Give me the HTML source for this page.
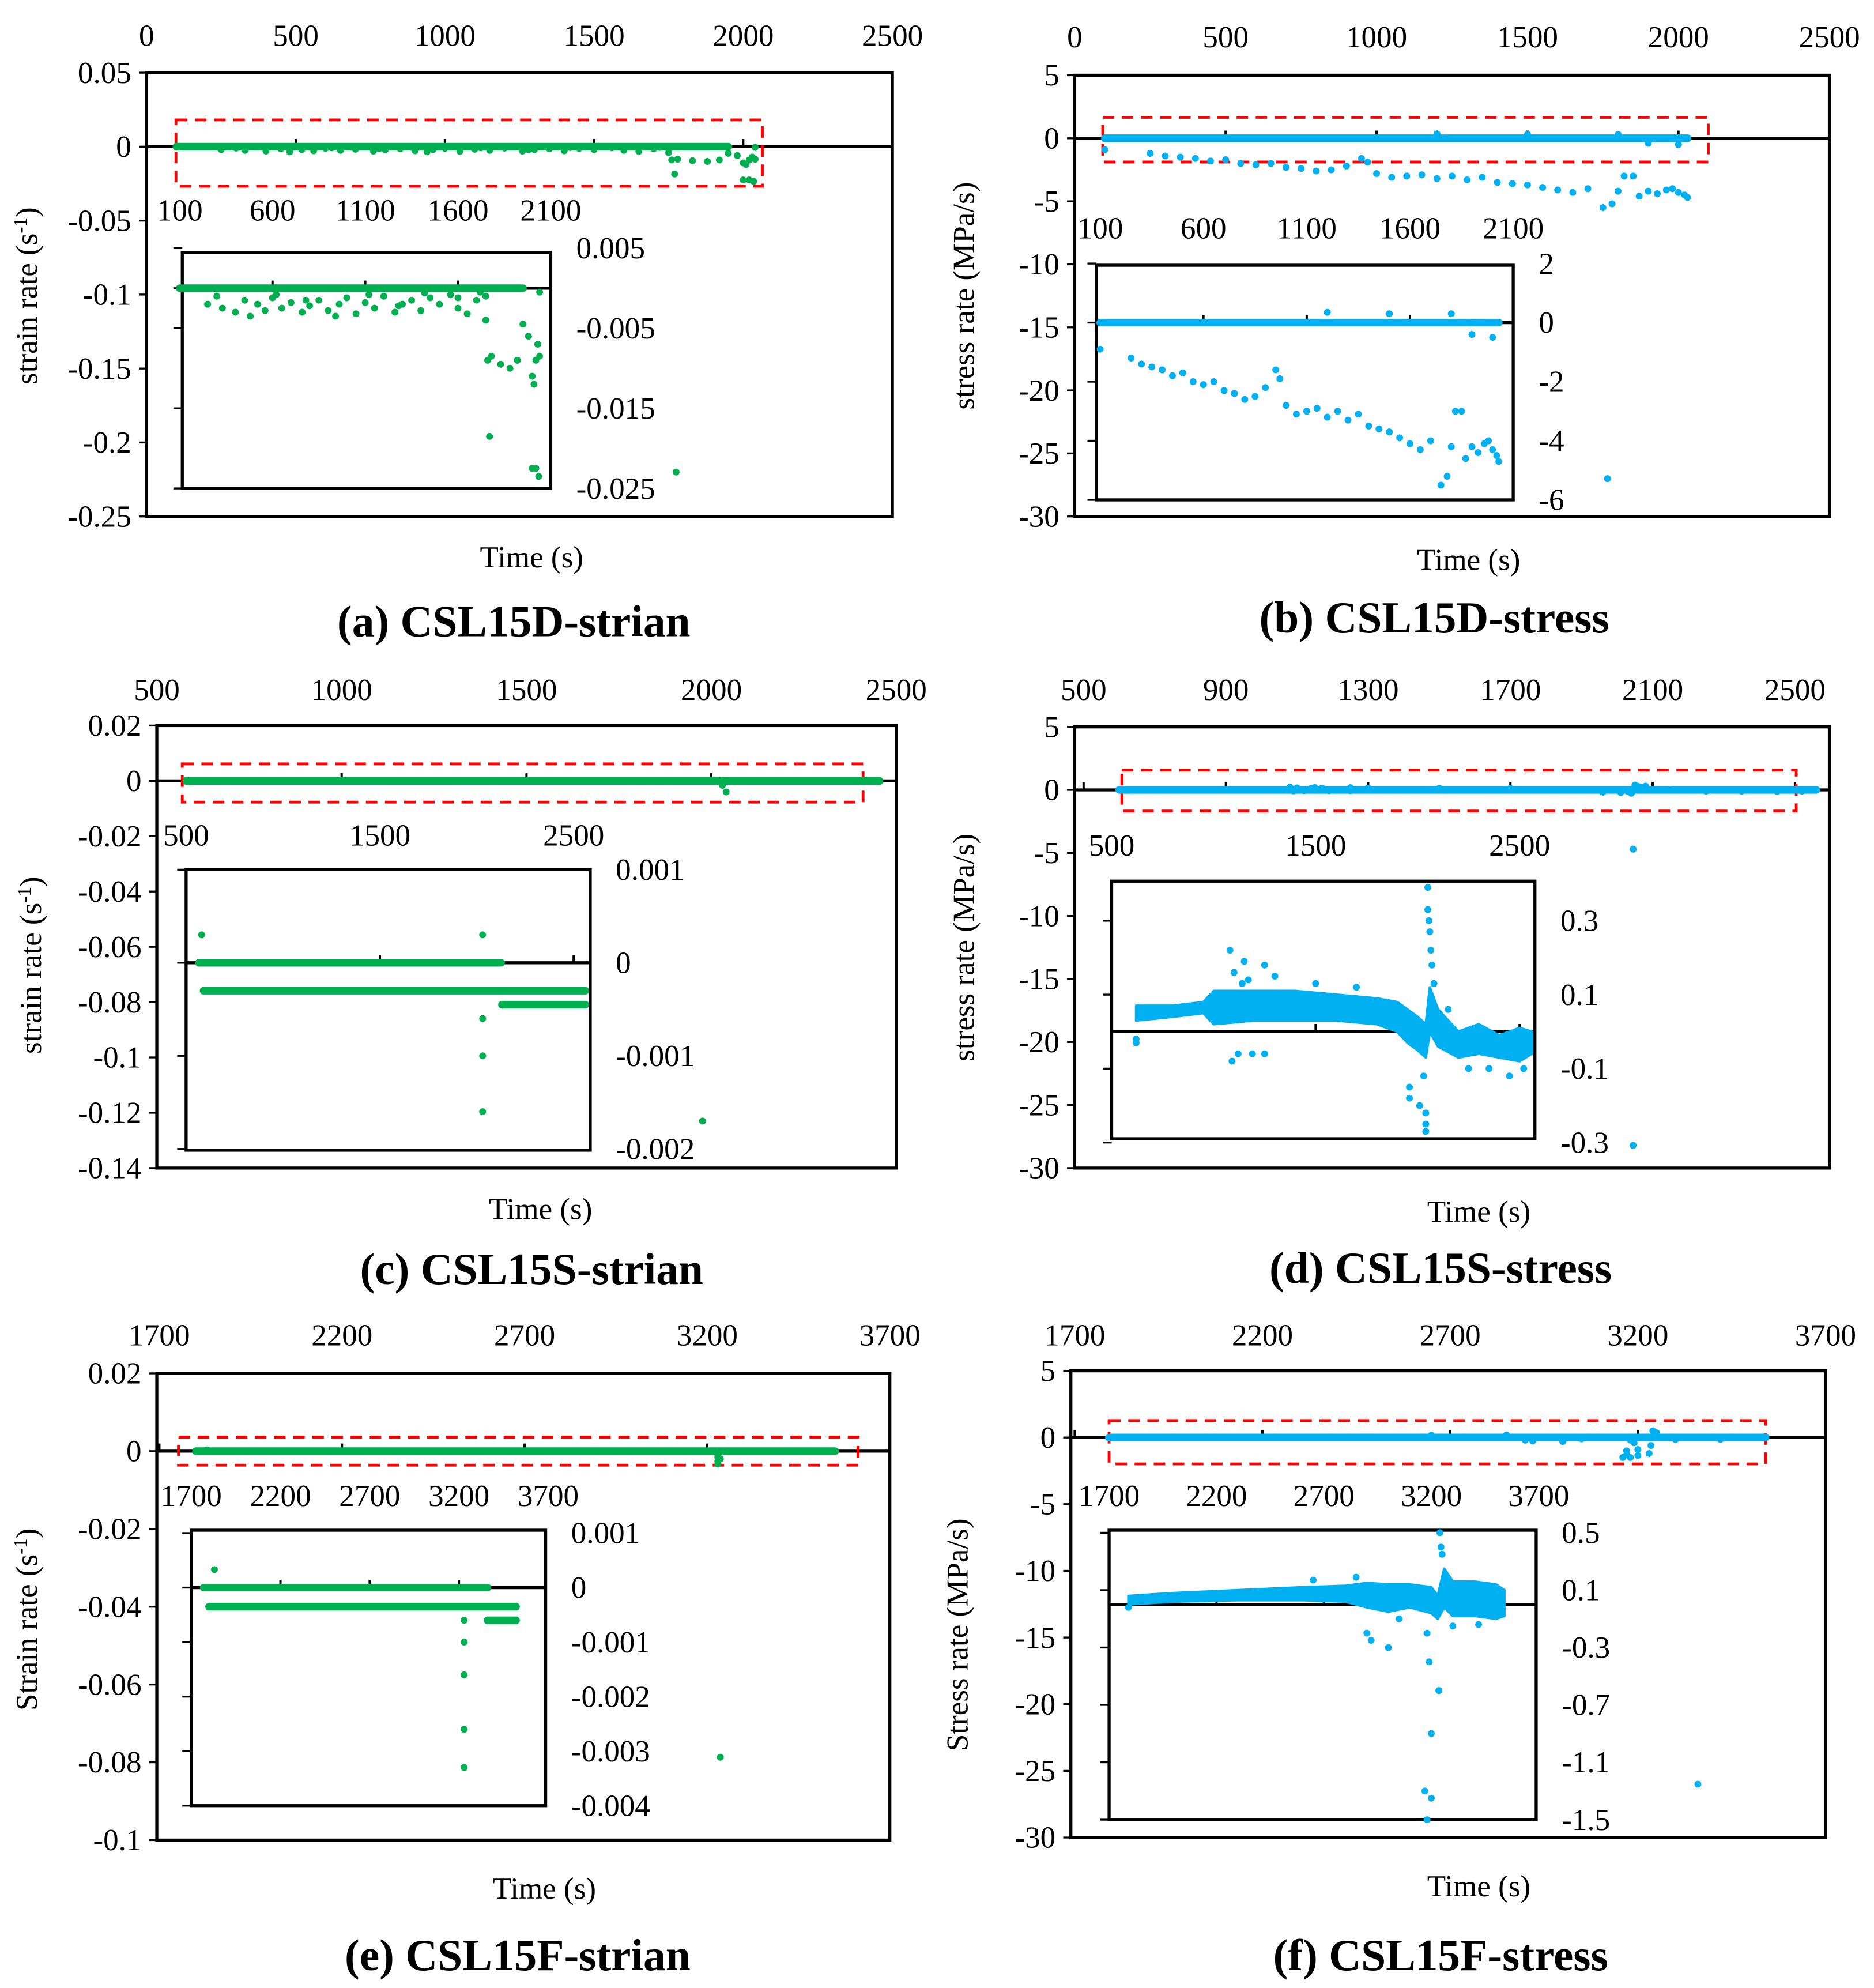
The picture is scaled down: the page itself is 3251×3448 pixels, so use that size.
<!DOCTYPE html>
<html><head><meta charset="utf-8">
<style>
html,body{margin:0;padding:0;background:#fff;}
svg{display:block;}
svg text{font-family:"Liberation Serif","Times New Roman",serif;fill:#000;}
</style></head>
<body>
<svg id="fig" xmlns="http://www.w3.org/2000/svg" width="3251" height="3448" viewBox="0 0 1470 1559" preserveAspectRatio="none" font-family="Liberation Serif, Times New Roman, serif">
<rect x="0" y="0" width="1470" height="1559" fill="#fff"/>
</svg>
<script>
// ===== Panel (a) data =====
const aBandT = [[100, 1950]];
const aBandV = [0];
const aPtT = [250,330,400,450,520,560,600,650,700,760,800,850,900,960,1000,1050,1100,1150,1200,1260,1300,1350,1400,1450,1500,1560,1600,1650,1700,1750,1750,1760,1770,1780,1830,1880,1920,1950,1980,2000,2010,2020,2030,2040,2000,2020,2035,2040,300,480,620,780,940,1120,1280,1420,1600,1720];
const aPtV = [-0.002,-0.0025,-0.003,-0.0015,-0.002,-0.0028,-0.0012,-0.0025,-0.0018,-0.003,-0.0022,-0.0015,-0.0028,-0.002,-0.0012,-0.0032,-0.0018,-0.0025,-0.001,-0.003,-0.002,-0.0015,-0.0028,-0.0012,-0.002,-0.0008,-0.0025,-0.0032,-0.0015,-0.001,-0.004,-0.009,-0.0185,-0.0085,-0.0095,-0.01,-0.009,-0.0045,-0.006,-0.011,-0.012,-0.009,-0.007,-0.0085,-0.0225,-0.0225,-0.0235,-0.0005,-0.001,-0.0035,-0.0008,-0.0015,-0.0035,-0.0008,-0.0022,-0.0006,-0.0012,-0.0005];
const aMainBandT = [[100, 1950]];
const aMainT = [1775];
const aMainV = [-0.22];
// ===== Panel (b) data =====
const bBandT = [[100, 2030]];
const bBandV = [0];
const bPtT = [100,250,300,350,400,450,500,550,600,650,700,750,800,850,900,950,970,1000,1050,1100,1150,1200,1250,1300,1350,1400,1450,1500,1550,1600,1650,1700,1750,1780,1800,1820,1850,1870,1900,1930,1960,1980,2000,2020,2030,1200,1500,1800,1900,2000];
const bPtV = [-0.9,-1.2,-1.4,-1.5,-1.6,-1.8,-1.7,-2.0,-2.1,-2.0,-2.3,-2.4,-2.6,-2.5,-2.2,-1.6,-1.9,-2.8,-3.1,-3.0,-2.9,-3.2,-3.0,-3.3,-3.1,-3.5,-3.6,-3.7,-3.9,-4.1,-4.3,-4.0,-5.5,-5.2,-4.2,-3.0,-3.0,-4.6,-4.2,-4.4,-4.1,-4.0,-4.3,-4.5,-4.7,0.35,0.3,0.3,-0.4,-0.5];
const bMainBandT = [[100, 2030]];
const bMainT = [1765];
const bMainV = [-27];
// ===== Panel (c) data =====
const cBandT = [[566, 2125],[590, 2560],[2130, 2560]];
const cBandV = [0, -0.0003, -0.00045];
const cPtT = [580, 2030, 2030, 2030, 2030];
const cPtV = [0.0003, 0.0003, -0.0006, -0.001, -0.0016];
const cMainBandT = [[580, 2455]];
const cMainT = [2040, 1976];
const cMainV = [-0.004, -0.123];
// ===== Panel (d) data =====
const dEnvT = [620,800,950,1000,1200,1400,1600,1800,1900,1950,2000,2040,2060,2100,2200,2300,2400,2500,2560];
const dEnvHi = [0.07,0.07,0.08,0.11,0.11,0.11,0.1,0.09,0.08,0.06,0.04,0.02,0.12,0.06,0.0,0.02,-0.01,0.01,0.0];
const dEnvLo = [0.03,0.04,0.05,0.02,0.03,0.03,0.03,0.02,0.0,-0.03,-0.05,-0.07,0.0,-0.04,-0.07,-0.06,-0.07,-0.08,-0.06];
const dPtT = [620,620,1080,1090,1120,1150,1170,1250,1250,1190,1960,1960,2010,2040,2040,2040,2050,2050,2055,2060,2065,2070,2080,2030,1100,1140,1300,1500,1700,2150,2250,2350,2450,2520];
const dPtV = [-0.02,-0.03,0.22,-0.08,-0.06,0.19,0.14,0.18,-0.06,-0.06,-0.15,-0.18,-0.2,-0.25,-0.27,-0.22,0.39,0.33,0.3,0.27,0.22,0.18,0.13,-0.12,0.16,0.13,0.15,0.13,0.12,0.06,-0.1,-0.1,-0.12,-0.1];
const dMainBandT = [[600, 2560]];
const dBandV = [0];
const dMainT = [2045, 2045, 2080];
const dMainV = [-4.7, -28.2, 0.3];
// ===== Panel (e) data =====
const eBandT = [[1770, 3360],[1800, 3520],[3360, 3520]];
const eBandV = [0, -0.00035, -0.0006];
const ePtT = [1830, 3229, 3229, 3229, 3229, 3229];
const ePtV = [0.00033, -0.0006, -0.001, -0.0016, -0.0026, -0.0033];
const eMainBandT = [[1800, 3550]];
const eMainT = [3236, 3236];
const eMainV = [-0.002, -0.0787];
// ===== Panel (f) data =====
const fEnvT = [1790,2000,2300,2600,2800,2900,3000,3100,3200,3230,3260,3300,3400,3500,3540];
const fEnvHi = [0.06,0.08,0.1,0.12,0.13,0.15,0.14,0.14,0.12,0.06,0.25,0.16,0.16,0.14,0.1];
const fEnvLo = [0.0,0.02,0.03,0.03,0.02,-0.02,-0.05,-0.02,-0.06,-0.1,-0.02,-0.08,-0.08,-0.1,-0.08];
const fPtT = [1790,2900,2920,3000,3180,3190,3200,3170,3200,3180,3235,3240,3245,3250,2650,2850,3050,3300,3420];
const fPtV = [-0.02,-0.2,-0.25,-0.3,-0.2,-0.4,-0.9,-1.3,-1.35,-1.5,-0.6,0.5,0.4,0.35,0.17,0.19,-0.1,-0.15,-0.14];
const fMainBandT = [[1800, 3540]];
const fMainT = [3160, 3170, 3230, 3360];
const fMainV = [-1.5, -1.0, -1.2, -26];

// ===== tick labels =====
const aXt=[0,500,1000,1500,2000,2500], aYt=[0.05,0,-0.05,-0.1,-0.15,-0.2,-0.25], aIXt=[100,600,1100,1600,2100], aIYt=[0.005,-0.005,-0.015,-0.025];
const bXt=[0,500,1000,1500,2000,2500], bYt=[5,0,-5,-10,-15,-20,-25,-30], bIXt=[100,600,1100,1600,2100], bIYt=[2,0,-2,-4,-6];
const cXt=[500,1000,1500,2000,2500], cYt=[0.02,0,-0.02,-0.04,-0.06,-0.08,-0.1,-0.12,-0.14], cIXt=[500,1500,2500], cIYt=[0.001,0,-0.001,-0.002];
const dXt=[500,900,1300,1700,2100,2500], dYt=[5,0,-5,-10,-15,-20,-25,-30], dIXt=[500,1500,2500], dIYt=[0.3,0.1,-0.1,-0.3];
const eXt=[1700,2200,2700,3200,3700], eYt=[0.02,0,-0.02,-0.04,-0.06,-0.08,-0.1], eIXt=[1700,2200,2700,3200,3700], eIYt=[0.001,0,-0.001,-0.002,-0.003,-0.004];
const fXt=[1700,2200,2700,3200,3700], fYt=[5,0,-5,-10,-15,-20,-25,-30], fIXt=[1700,2200,2700,3200,3700], fIYt=[0.5,0.1,-0.3,-0.7,-1.1,-1.5];

const NS='http://www.w3.org/2000/svg';
const svg=document.getElementById('fig');
const FF='Liberation Serif, Times New Roman, serif';
function mk(tag,attrs,parent){const e=document.createElementNS(NS,tag);for(const k in attrs)e.setAttribute(k,attrs[k]);if(tag==='text')e.setAttribute('font-family',FF);(parent||svg).appendChild(e);return e;}
function lin(a,pa,b,pb){return v=>pa+(v-a)*(pb-pa)/(b-a);}
function fmt(v){return v<0?'-'+String(-v):String(v);}
const FS=24;

function panel(c){
  const g=mk('g',{});
  
  
  const [x0,y0,x1,y1]=c.box;
  const X=lin(...c.xm), Y=lin(...c.ym);
  const IX=lin(...c.ixm), IY=lin(...c.iym);
  const box=mk('rect',{x:x0,y:y0,width:x1-x0,height:y1-y0,fill:'none',stroke:'#000','stroke-width':2.4},g);
  
  
  c.yt.forEach(v=>{
    const t=mk('text',{x:x0-12,y:Y(v)+8,'font-size':FS,'text-anchor':'end'},g);t.textContent=fmt(v);
    
    
    mk('line',{x1:x0-6,x2:x0,y1:Y(v),y2:Y(v),stroke:'#000','stroke-width':1.5},g);
  });
  c.xt.forEach(v=>{
    const t=mk('text',{x:X(v),y:c.topY,'font-size':FS,'text-anchor':'middle'},g);t.textContent=v;
    
    
    mk('line',{x1:X(v),x2:X(v),y1:Y(0)-6,y2:Y(0),stroke:'#000','stroke-width':1.8},g);
  });
  const z=mk('line',{x1:x0,x2:x1,y1:Y(0),y2:Y(0),stroke:'#000','stroke-width':2.4},g);
  
  
  const yt=mk('text',{x:0,y:0,'font-size':FS,'text-anchor':'middle',transform:`translate(${c.ytPos[0]},${c.ytPos[1]}) rotate(-90)`},g);
  
  
  if(c.sup){yt.appendChild(document.createTextNode(c.ytitle));const s=mk('tspan',{'baseline-shift':'super','font-size':15},yt);s.textContent='-1';yt.appendChild(document.createTextNode(')'));}
  else yt.textContent=c.ytitle;
  const xt=mk('text',{x:c.xtPos[0],y:c.xtPos[1],'font-size':FS,'text-anchor':'middle'},g);xt.textContent='Time (s)';
  
  
  const ti=mk('text',{x:c.titlePos[0],y:c.titlePos[1],'font-size':35,'font-weight':'bold','text-anchor':'middle'},g);ti.textContent=c.title;
  
  
  const [rx0,ry0,rx1,ry1]=c.red;
  const rb=mk('rect',{x:rx0,y:ry0,width:rx1-rx0,height:ry1-ry0,fill:'none',stroke:'#ff0000','stroke-width':2.2,'stroke-dasharray':'9,6'},g);
  
  
  const col=c.color;
  c.mband.forEach(r=>{
    const l=mk('line',{x1:X(r[0]),x2:X(r[1]),y1:Y(0),y2:Y(0),stroke:col,'stroke-width':6,'stroke-linecap':'round'},g);
    
    
  });
  const mainPts=[...c.pts.T.map((t,i)=>[t,c.pts.V[i]]),...c.mpts.T.map((t,i)=>[t,c.mpts.V[i]])];
  mainPts.forEach(p=>{
    const d=mk('circle',{cx:X(p[0]),cy:Y(p[1]),r:2.7,fill:col},g);
    
    
  });
  const [ix0,iy0,ix1,iy1]=c.ibox;
  const ib=mk('rect',{x:ix0,y:iy0,width:ix1-ix0,height:iy1-iy0,fill:'#fff',stroke:'#000','stroke-width':2.4},g);
  
  
  c.iyTicks.forEach(v=>mk('line',{x1:ix0-7,x2:ix0,y1:IY(v),y2:IY(v),stroke:'#000','stroke-width':1.5},g));
  c.ixt.forEach(v=>{
    const t=mk('text',{x:IX(v),y:c.itopY,'font-size':FS,'text-anchor':'middle'},g);t.textContent=v;
    
    
    if(IX(v)>ix0+3&&IX(v)<ix1-3)mk('line',{x1:IX(v),x2:IX(v),y1:IY(0)-6,y2:IY(0),stroke:'#000','stroke-width':1.8},g);
  });
  c.iyt.forEach(v=>{
    const t=mk('text',{x:ix1+20,y:IY(v)+8,'font-size':FS,'text-anchor':'start'},g);t.textContent=fmt(v);
    
    
  });
  const iz=mk('line',{x1:ix0,x2:ix1,y1:IY(0),y2:IY(0),stroke:'#000','stroke-width':2.4},g);
  
  
  if(c.env){
    const up=c.env.T.map((t,i)=>IX(t)+','+IY(c.env.H[i]));
    const lo=c.env.T.map((t,i)=>IX(t)+','+IY(c.env.L[i])).reverse();
    const pg=mk('polygon',{points:up.concat(lo).join(' '),fill:col,stroke:col,'stroke-width':2,'stroke-linejoin':'round'},g);
    
    
  } else {
    c.band.T.forEach((r,i)=>{
      const l=mk('line',{x1:IX(r[0]),x2:IX(r[1]),y1:IY(c.band.V[i]),y2:IY(c.band.V[i]),stroke:col,'stroke-width':6,'stroke-linecap':'round'},g);
      
      
    });
  }
  c.pts.T.forEach((t,i)=>{
    const d=mk('circle',{cx:IX(t),cy:IY(c.pts.V[i]),r:2.7,fill:col},g);
    
    
  });
}

const G='#00b050', B='#00b0f0';
panel({id:'a',color:G,box:[115,57,700,405],xm:[0,115,2500,700],ym:[0.05,57,-0.25,405],xt:aXt,yt:aYt,topY:36,
  red:[138,94,598,146],ibox:[143,198,432,383],ixm:[100,141,2100,432],iym:[0,226,-0.025,383],ixt:aIXt,iyt:aIYt,iyTicks:[0.005,0,-0.005,-0.015,-0.025],itopY:173,
  band:{T:aBandT,V:aBandV},mband:aMainBandT,pts:{T:aPtT,V:aPtV},mpts:{T:aMainT,V:aMainV},
  ytitle:'strain rate (s',sup:true,ytPos:[29,232],xtPos:[417,445],title:'(a) CSL15D-strian',titlePos:[403,499]});
panel({id:'b',color:B,box:[843,59,1435,405],xm:[0,843,2500,1435],ym:[5,59,-30,405],xt:bXt,yt:bYt,topY:37,
  red:[865,92,1340,127],ibox:[860,208,1187,392],ixm:[100,863,2100,1187],iym:[0,253,-6,392],ixt:bIXt,iyt:bIYt,iyTicks:[2,0,-2,-4,-6],itopY:187,
  band:{T:bBandT,V:bBandV},mband:bMainBandT,pts:{T:bPtT,V:bPtV},mpts:{T:bMainT,V:bMainV},
  ytitle:'stress rate (MPa/s)',sup:false,ytPos:[764,232],xtPos:[1152,447],title:'(b) CSL15D-stress',titlePos:[1125,496]});
panel({id:'c',color:G,box:[123,569,703,916],xm:[500,123,2500,703],ym:[0.02,569,-0.14,916],xt:cXt,yt:cYt,topY:549,
  red:[143,599,677,629],ibox:[146,682,463,902],ixm:[500,146,2500,450],iym:[0,755,-0.002,901],ixt:cIXt,iyt:cIYt,iyTicks:[0.001,0,-0.001,-0.002],itopY:663,
  band:{T:cBandT,V:cBandV},mband:cMainBandT,pts:{T:cPtT,V:cPtV},mpts:{T:cMainT,V:cMainV},
  ytitle:'strain rate (s',sup:true,ytPos:[32,757],xtPos:[424,956],title:'(c) CSL15S-strian',titlePos:[417,1007]});
panel({id:'d',color:B,box:[843,570,1435,916],xm:[500,850,2500,1408],ym:[5,570,-30,916],xt:dXt,yt:dYt,topY:549,
  red:[880,604,1409,636],ibox:[872,691,1204,893],ixm:[500,872,2500,1192],iym:[0.1,780,-0.1,838],ixt:dIXt,iyt:dIYt,iyTicks:[0.3,0.1,-0.1,-0.3],itopY:671,
  band:{T:dMainBandT,V:dBandV},mband:dMainBandT,pts:{T:dPtT,V:dPtV},mpts:{T:dMainT,V:dMainV},env:{T:dEnvT,H:dEnvHi,L:dEnvLo},
  ytitle:'stress rate (MPa/s)',sup:false,ytPos:[764,743],xtPos:[1160,958],title:'(d) CSL15S-stress',titlePos:[1130,1006]});
panel({id:'e',color:G,box:[123,1077,698,1443],xm:[1700,125,3700,698],ym:[0.02,1077,-0.1,1443],xt:eXt,yt:eYt,topY:1055,
  red:[140,1127,673,1149],ibox:[150,1200,428,1416],ixm:[1700,150,3700,430],iym:[0,1245,-0.004,1416],ixt:eIXt,iyt:eIYt,iyTicks:[0.001,0,-0.001,-0.002,-0.003,-0.004],itopY:1181,
  band:{T:eBandT,V:eBandV},mband:eMainBandT,pts:{T:ePtT,V:ePtV},mpts:{T:eMainT,V:eMainV},
  ytitle:'Strain rate (s',sup:true,ytPos:[29,1270],xtPos:[427,1489],title:'(e) CSL15F-strian',titlePos:[406,1545]});
panel({id:'f',color:B,box:[840,1075,1432,1441],xm:[1700,843,3700,1432],ym:[5,1075,-30,1441],xt:fXt,yt:fYt,topY:1055,
  red:[870,1114,1385,1148],ibox:[870,1200,1205,1427],ixm:[1700,870,3700,1207],iym:[0.1,1247,-0.3,1292],ixt:fIXt,iyt:fIYt,iyTicks:[0.5,0.1,-0.3,-0.7,-1.1,-1.5],itopY:1181,
  band:{T:fMainBandT,V:[0]},mband:fMainBandT,pts:{T:fPtT,V:fPtV},mpts:{T:fMainT,V:fMainV},env:{T:fEnvT,H:fEnvHi,L:fEnvLo},
  ytitle:'Stress rate (MPa/s)',sup:false,ytPos:[759,1282],xtPos:[1160,1487],title:'(f) CSL15F-stress',titlePos:[1130,1545]});
</script>
</body></html>
